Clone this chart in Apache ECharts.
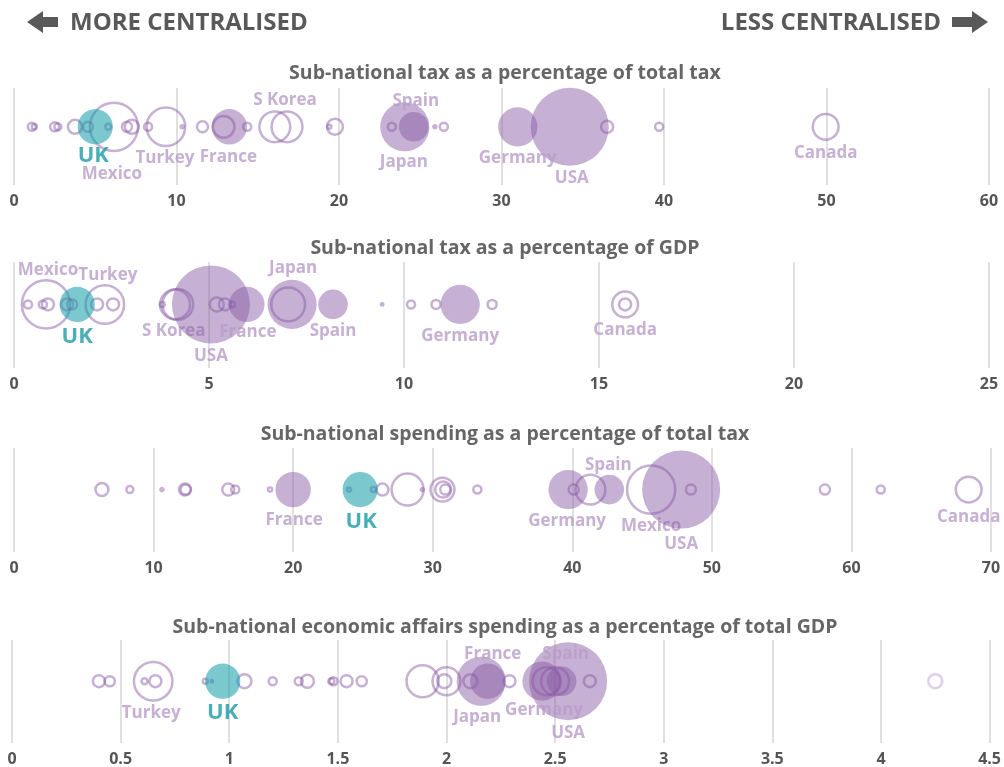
<!DOCTYPE html>
<html><head><meta charset="utf-8">
<script src="https://cdn.jsdelivr.net/npm/echarts@6/dist/echarts.min.js"></script>
<style>html,body{margin:0;padding:0;background:#fff}#c{width:1004px;height:767px}</style>
</head><body><div id="c"></div>
<script>
// ---------- DATA ----------
const panelTitles = [
  'Sub-national tax as a percentage of total tax',
  'Sub-national tax as a percentage of GDP',
  'Sub-national spending as a percentage of total tax',
  'Sub-national economic affairs spending as a percentage of total GDP'
];
const axisMax = [60, 25, 70, 4.5];
const axisStep = [10, 5, 10, 0.5];

// Panel 1: sub-national tax as % of total tax
const taxShareValues = [1.1,1.25,2.5,2.7,3.75,4.55,5.0,5.8,6.15,6.95,7.25,8.25,9.35,10.35,11.6,12.9,13.25,14.35,16.05,16.8,19.4,19.75,23.25,24.05,24.6,25.9,26.45,31.0,34.2,36.5,39.7,49.95];
const taxSharePop =    [3.4,1.3,4.3,2.6,10.3,5.3,65,1.9,122,5.3,10.3,3.4,78,0.5,6.4,25,66,3.4,50,50,0.9,13.5,3.4,127,46,0.5,3.4,81,320,7.6,3.4,35];
const taxShareNames =  ['','','','','','','UK','','Mexico','','','','Turkey','','','','France','','','S Korea','','','','Japan','Spain','','','Germany','USA','','','Canada'];

// Panel 2: sub-national tax as % of GDP
const taxGdpValues = [0.36,0.74,0.82,0.87,1.36,1.49,1.62,2.13,2.33,2.54,3.8,4.13,4.2,5.05,5.2,5.41,5.59,5.97,7.03,7.13,8.18,9.44,10.18,10.82,11.44,12.26,15.67,15.67];
const taxGdpPop =    [3.4,3.4,122,7.6,7.6,5.3,65,7.6,78,7.6,1.3,47,50,320,10.3,7.6,1.9,66,60,127,46,0.3,3.4,4.3,81,4.3,35,7.6];
const taxGdpNames =  ['','','Mexico','','','','UK','','Turkey','','','','S Korea','USA','','','','France','','Japan','Spain','','','','Germany','','Canada',''];

// Panel 3: sub-national spending as % of total tax
const spendValues = [6.3,8.3,10.6,12.25,12.3,15.35,15.85,18.35,20.0,24.0,24.8,25.75,26.4,28.2,29.25,30.7,30.75,30.9,33.2,39.7,40.1,41.3,42.65,45.65,47.8,48.5,58.1,62.1,68.4];
const spendPop =    [8.9,2.6,0.5,7.6,5.3,7.6,3.4,0.9,66,0.9,65,1.3,7.6,54,0.5,30,13.5,5.3,3.4,81,5.3,47,46,122,320,5.3,5.3,3.4,35];
const spendNames =  ['','','','','','','','','France','','UK','','','','','','','','','Germany','','','Spain','Mexico','USA','','','','Canada'];

// Panel 4: sub-national economic affairs spending as % of GDP
const econValues = [0.40,0.45,0.61,0.65,0.66,0.89,0.92,0.97,1.07,1.2,1.32,1.36,1.47,1.48,1.54,1.61,1.89,1.99,2.0,2.11,2.16,2.19,2.29,2.44,2.46,2.5,2.53,2.56,2.66,4.25];
const econPop =    [7.6,5.3,1.9,78,7.6,1.3,0.3,65,10.3,3.4,3.4,8.9,1.9,3.4,7.6,5.3,54,10.3,41,10.3,127,66,7.6,81,41,41,46,320,7.6,10.3];
const econNames =  ['','','','Turkey','','','','UK','','','','','','','','','','','','','Japan','France','','Germany','','','Spain','USA','',''];
const econFadedIdx = [29];

const comparators = ['France','Germany','Japan','Spain','USA'];

// ---------- LAYOUT / STYLE ----------
const panels = [
  {values: taxShareValues, pop: taxSharePop, names: taxShareNames, faded: []},
  {values: taxGdpValues, pop: taxGdpPop, names: taxGdpNames, faded: []},
  {values: spendValues, pop: spendPop, names: spendNames, faded: []},
  {values: econValues, pop: econPop, names: econNames, faded: econFadedIdx}
];
const grids = [
  {left: 14, right: 15, top: 88, height: 97},
  {left: 14, right: 15, top: 262, height: 106},
  {left: 14, right: 13, top: 448, height: 104},
  {left: 12, right: 11, top: 640, height: 105}
];
const titleY = [73, 248, 434, 627];
const labelOffsets = [
  {UK:[-2,29], Mexico:[-2,47], Turkey:[-1,31], France:[-1,30], 'S Korea':[-2,-27], Spain:[2,-26], Japan:[-1,35], Germany:[0,31], USA:[2,51], Canada:[0,26]},
  {Mexico:[2,-34], Turkey:[3,-29], UK:[0,32], 'S Korea':[-4,27], USA:[0,52], France:[1,28], Japan:[1,-36], Spain:[0,27], Germany:[0,32], Canada:[0,26]},
  {France:[1,31], UK:[1,32], Germany:[-1,32], Spain:[-1,-24], Mexico:[0,37], USA:[0,55], Canada:[0,28]},
  {Turkey:[-2,32], UK:[0,32], France:[5,-27], Japan:[-4,36], Germany:[2,29], Spain:[4,-27], USA:[0,52]}
];
const FONT = '"Open Sans", "Noto Sans", sans-serif';
const purple = 'rgba(135,90,165,0.6)';
const purpleLabel = '#b89cc8';
const teal = 'rgba(26,160,170,0.72)';
const tealLabel = '#1b9aa2';
const sizeOf = p => 78 * Math.sqrt(p / 320);

const grid = [], xAxis = [], yAxis = [], series = [];
panels.forEach((pn, i) => {
  grid.push(grids[i]);
  xAxis.push({
    gridIndex: i, type: 'value', min: 0, max: axisMax[i], interval: axisStep[i],
    axisLine: {show: false}, axisTick: {show: false},
    splitLine: {show: true, lineStyle: {color: '#d6d6d6', width: 1.5}},
    axisLabel: {color: '#555', fontFamily: FONT, fontWeight: 'bold', fontSize: 16, margin: 8,
      showMinLabel: true, showMaxLabel: true}
  });
  yAxis.push({gridIndex: i, type: 'value', min: -0.6, max: 0.4, show: false});
  const hollow = [], filled = [], uk = [];
  pn.values.forEach((v, j) => {
    const name = pn.names[j];
    const item = {value: [v, 0], name: name, symbolSize: sizeOf(pn.pop[j])};
    if (name) {
      const off = labelOffsets[i][name] || [0, 30];
      item.label = {show: true, position: 'inside', offset: off, formatter: name,
        color: name === 'UK' ? tealLabel : purpleLabel,
        fontFamily: FONT, fontWeight: 'bold', fontSize: name === 'UK' ? 22 : 17};
    }
    if (pn.faded.includes(j)) item.itemStyle = {borderColor: 'rgba(180,150,200,0.55)'};
    if (name === 'UK') uk.push(item);
    else if (comparators.includes(name)) filled.push(item);
    else hollow.push(item);
  });
  const base = {type: 'scatter', xAxisIndex: i, yAxisIndex: i, symbol: 'circle', silent: true, animation: false};
  series.push(Object.assign({}, base, {data: hollow, z: 2,
    itemStyle: {color: 'rgba(0,0,0,0)', borderColor: purple, borderWidth: 2.5}}));
  series.push(Object.assign({}, base, {data: filled, z: 3,
    itemStyle: {color: purple, borderWidth: 0}}));
  series.push(Object.assign({}, base, {data: uk, z: 4,
    itemStyle: {color: teal, borderWidth: 0}}));
});

const headColor = '#595959';
const graphic = [
  {type: 'polygon', shape: {points: [[27,22],[43,11],[43,17],[58,17],[58,27],[43,27],[43,33]]}, style: {fill: headColor}},
  {type: 'text', x: 70, y: 23, style: {text: 'MORE CENTRALISED', font: 'bold 24px ' + FONT, fill: headColor, textAlign: 'left', textVerticalAlign: 'middle'}},
  {type: 'text', x: 941, y: 23, style: {text: 'LESS CENTRALISED', font: 'bold 24px ' + FONT, fill: headColor, textAlign: 'right', textVerticalAlign: 'middle'}},
  {type: 'polygon', shape: {points: [[988,22],[972,11],[972,17],[952,17],[952,27],[972,27],[972,33]]}, style: {fill: headColor}}
];
panelTitles.forEach((t, i) => graphic.push({type: 'text', x: 505, y: titleY[i],
  style: {text: t, font: 'bold 19.5px ' + FONT, fill: '#666', textAlign: 'center', textVerticalAlign: 'middle'}}));

const chart = echarts.init(document.getElementById('c'), null, {renderer: 'canvas'});
chart.setOption({backgroundColor: '#fff', animation: false, grid, xAxis, yAxis, series, graphic});
</script></body></html>
